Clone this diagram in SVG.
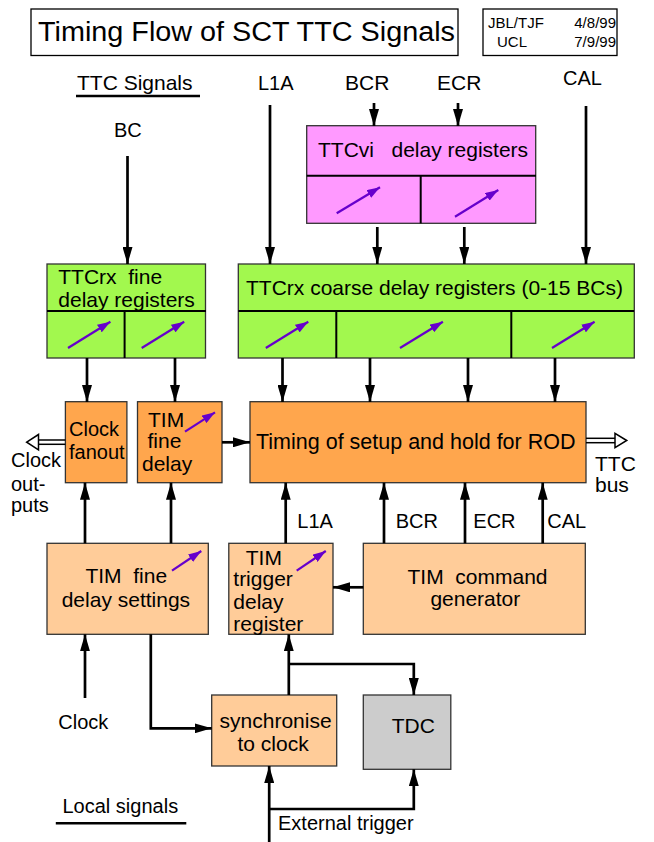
<svg xmlns="http://www.w3.org/2000/svg" width="654" height="842" viewBox="0 0 654 842">
<defs>
<style>
text{font-family:"Liberation Sans",Arial,Helvetica,sans-serif;font-size:21px;fill:#000}
.s20{font-size:20px}
.sm{font-size:15px}
.box{stroke:#333;stroke-width:1.3}
.green{fill:#a2f84e}
.pink{fill:#ff99ff}
.dor{fill:#ffa64d}
.lor{fill:#ffcc99}
.gray{fill:#cccccc}
.white{fill:#fff}
.div{stroke:#000;stroke-width:2;fill:none}
.con{stroke:#000;stroke-width:2.7;fill:none}
.pur{stroke:#6600cc;stroke-width:2.2;fill:none}
.hol{stroke:#000;stroke-width:1.5;fill:none}
</style>
<marker id="ah" markerUnits="userSpaceOnUse" viewBox="0 0 17 10" refX="17" refY="5" markerWidth="17" markerHeight="10" orient="auto">
<path d="M0,0 L17,5 L0,10 Z" fill="#000"/>
</marker>
<marker id="ph" markerUnits="userSpaceOnUse" viewBox="0 0 13 9" refX="13" refY="4.5" markerWidth="13" markerHeight="9" orient="auto">
<path d="M0,0 L13,4.5 L0,9 Z" fill="#6600cc"/>
</marker>
</defs>

<g id="title">
<rect class="box white" x="31" y="9" width="427" height="46.5" style="stroke:#000"/>
<text x="38" y="41" style="font-size:27px" textLength="417" lengthAdjust="spacingAndGlyphs">Timing Flow of SCT TTC Signals</text>
</g>
<g id="authors">
<rect class="box white" x="483" y="9" width="134" height="46.5" style="stroke:#000"/>
<text class="sm" x="488" y="28">JBL/TJF</text>
<text class="sm" x="497" y="47">UCL</text>
<text class="sm" x="616" y="28" text-anchor="end">4/8/99</text>
<text class="sm" x="616" y="47" text-anchor="end">7/9/99</text>
</g>

<g id="labels">
<text x="77" y="90">TTC Signals</text>
<line x1="76" y1="96" x2="200" y2="96" stroke="#000" stroke-width="2.5"/>
<text class="s20" x="258" y="90">L1A</text>
<text x="345" y="90">BCR</text>
<text x="437" y="90">ECR</text>
<text class="s20" x="563" y="85">CAL</text>
<text class="s20" x="114" y="137">BC</text>
<text class="s20" x="11" y="467">Clock</text>
<text class="s20" x="11" y="490.7">out-</text>
<text class="s20" x="11" y="511.7">puts</text>
<text x="595" y="470.7">TTC</text>
<text x="595" y="491.7">bus</text>
<text class="s20" x="297.3" y="527.7">L1A</text>
<text class="s20" x="395.7" y="527.7">BCR</text>
<text class="s20" x="473.3" y="527.7">ECR</text>
<text class="s20" x="547.3" y="527.7">CAL</text>
<text class="s20" x="58.3" y="729">Clock</text>
<text class="s20" x="62.5" y="813">Local signals</text>
<line x1="55.8" y1="823.3" x2="186.3" y2="823.3" stroke="#000" stroke-width="2.5"/>
<text class="s20" x="278" y="830">External trigger</text>
</g>

<g id="ttcvi">
<rect class="box pink" x="306.7" y="125.7" width="229" height="97.6"/>
<line class="div" x1="306.7" y1="175.7" x2="536" y2="175.7"/>
<line class="div" x1="420.7" y1="175.7" x2="420.7" y2="223.3"/>
<text x="318" y="157" xml:space="preserve">TTCvi   delay registers</text>
<line class="pur" x1="336.7" y1="213.3" x2="380" y2="187.3" marker-end="url(#ph)"/>
<line class="pur" x1="455" y1="216.7" x2="498.3" y2="190" marker-end="url(#ph)"/>
</g>

<g id="ttcrx-fine">
<rect class="box green" x="47" y="264" width="158.5" height="94"/>
<line class="div" x1="47" y1="311" x2="206" y2="311"/>
<line class="div" x1="124.6" y1="311" x2="124.6" y2="358"/>
<text x="58.3" y="284" xml:space="preserve">TTCrx  fine</text>
<text x="58.3" y="307">delay registers</text>
<line class="pur" x1="68" y1="348" x2="110.4" y2="321.7" marker-end="url(#ph)"/>
<line class="pur" x1="141.7" y1="348" x2="184.2" y2="321.7" marker-end="url(#ph)"/>
</g>

<g id="ttcrx-coarse">
<rect class="box green" x="238.3" y="264" width="396" height="94"/>
<line class="div" x1="238.3" y1="311" x2="634" y2="311"/>
<line class="div" x1="336.3" y1="311" x2="336.3" y2="358"/>
<line class="div" x1="511.3" y1="311" x2="511.3" y2="358"/>
<text x="246" y="295">TTCrx coarse delay registers (0-15 BCs)</text>
<line class="pur" x1="265.8" y1="348" x2="308.3" y2="321.7" marker-end="url(#ph)"/>
<line class="pur" x1="400" y1="348" x2="442.9" y2="321.7" marker-end="url(#ph)"/>
<line class="pur" x1="552" y1="348" x2="594.6" y2="321.7" marker-end="url(#ph)"/>
</g>

<g id="clock-fanout">
<rect class="box dor" x="65.4" y="401.7" width="61.5" height="81"/>
<text class="s20" x="69" y="436">Clock</text>
<text class="s20" x="69" y="459">fanout</text>
</g>

<g id="tim-fine-delay">
<rect class="box dor" x="137.5" y="401.7" width="84.5" height="81"/>
<text x="148" y="426.7">TIM</text>
<text x="147.5" y="448.3">fine</text>
<text x="142" y="471">delay</text>
<line class="pur" x1="185" y1="431.7" x2="215" y2="412.3" marker-end="url(#ph)"/>
</g>

<g id="timing-rod">
<rect class="box dor" x="250" y="401.7" width="336" height="81"/>
<text x="256" y="449" style="font-size:21.5px">Timing of setup and hold for ROD</text>
</g>

<g id="tim-fine-settings">
<rect class="box lor" x="47" y="543.3" width="161.3" height="91"/>
<text x="85.4" y="583" xml:space="preserve">TIM  fine</text>
<text x="61.7" y="607">delay settings</text>
<line class="pur" x1="172" y1="570.7" x2="201.3" y2="551" marker-end="url(#ph)"/>
</g>

<g id="tim-trigger-delay">
<rect class="box lor" x="228.8" y="543.3" width="104.2" height="91"/>
<text x="245.8" y="565">TIM</text>
<text x="233.3" y="585.7">trigger</text>
<text x="233.3" y="609.3">delay</text>
<text x="233.3" y="630.7">register</text>
<line class="pur" x1="296.7" y1="570.7" x2="325.8" y2="551" marker-end="url(#ph)"/>
</g>

<g id="tim-command">
<rect class="box lor" x="363.3" y="543.3" width="222" height="91"/>
<text x="407.5" y="584" xml:space="preserve">TIM  command</text>
<text x="430.4" y="606">generator</text>
</g>

<g id="synchronise">
<rect class="box lor" x="211.7" y="695" width="125" height="71"/>
<text x="219.6" y="728">synchronise</text>
<text x="237.5" y="751">to clock</text>
</g>

<g id="tdc">
<rect class="box gray" x="363.3" y="695" width="87.5" height="74.3"/>
<text x="391.7" y="733">TDC</text>
</g>

<g id="connectors">
<line class="con" x1="127.5" y1="156" x2="127.5" y2="264" marker-end="url(#ah)"/>
<line class="con" x1="270" y1="105" x2="270" y2="264" marker-end="url(#ah)"/>
<line class="con" x1="374" y1="103" x2="374" y2="126" marker-end="url(#ah)"/>
<line class="con" x1="458" y1="103" x2="458" y2="126" marker-end="url(#ah)"/>
<line class="con" x1="586" y1="106" x2="586" y2="264" marker-end="url(#ah)"/>
<line class="con" x1="377.3" y1="227" x2="377.3" y2="264" marker-end="url(#ah)"/>
<line class="con" x1="464.3" y1="227" x2="464.3" y2="264" marker-end="url(#ah)"/>
<line class="con" x1="87" y1="358" x2="87" y2="402" marker-end="url(#ah)"/>
<line class="con" x1="175" y1="358" x2="175" y2="402" marker-end="url(#ah)"/>
<line class="con" x1="282.5" y1="358" x2="282.5" y2="402" marker-end="url(#ah)"/>
<line class="con" x1="370" y1="358" x2="370" y2="402" marker-end="url(#ah)"/>
<line class="con" x1="468" y1="358" x2="468" y2="402" marker-end="url(#ah)"/>
<line class="con" x1="555" y1="358" x2="555" y2="402" marker-end="url(#ah)"/>
<line class="con" x1="222" y1="442.3" x2="250" y2="442.3" marker-end="url(#ah)"/>
<line class="con" x1="85" y1="543.3" x2="85" y2="482.7" marker-end="url(#ah)"/>
<line class="con" x1="171" y1="543.3" x2="171" y2="482.7" marker-end="url(#ah)"/>
<line class="con" x1="285.7" y1="543.3" x2="285.7" y2="482.7" marker-end="url(#ah)"/>
<line class="con" x1="384" y1="543.3" x2="384" y2="482.7" marker-end="url(#ah)"/>
<line class="con" x1="465" y1="543.3" x2="465" y2="482.7" marker-end="url(#ah)"/>
<line class="con" x1="542.7" y1="543.3" x2="542.7" y2="482.7" marker-end="url(#ah)"/>
<line class="con" x1="363.3" y1="587.3" x2="333" y2="587.3" marker-end="url(#ah)"/>
<line class="con" x1="85" y1="698" x2="85" y2="634.3" marker-end="url(#ah)"/>
<path class="con" d="M150.8,634.3 V728.3 H211.7" marker-end="url(#ah)"/>
<line class="con" x1="288.8" y1="695" x2="288.8" y2="634.3" marker-end="url(#ah)"/>
<path class="con" d="M288.8,664 H413.8 V695" marker-end="url(#ah)"/>
<line class="con" x1="269.2" y1="842" x2="269.2" y2="766" marker-end="url(#ah)"/>
<path class="con" d="M269.2,809 H413.8 V769.3" marker-end="url(#ah)"/>
<line class="hol" x1="38.5" y1="440" x2="65.4" y2="440"/>
<line class="hol" x1="38.5" y1="444.3" x2="65.4" y2="444.3"/>
<polygon class="hol" points="26.7,442.2 38.5,434.5 38.5,449.8" fill="#fff"/>
<line class="hol" x1="586" y1="438.3" x2="615" y2="438.3"/>
<line class="hol" x1="586" y1="442.7" x2="615" y2="442.7"/>
<polygon class="hol" points="626.7,440.5 615,433.3 615,447.7" fill="#fff"/>
</g>
</svg>
